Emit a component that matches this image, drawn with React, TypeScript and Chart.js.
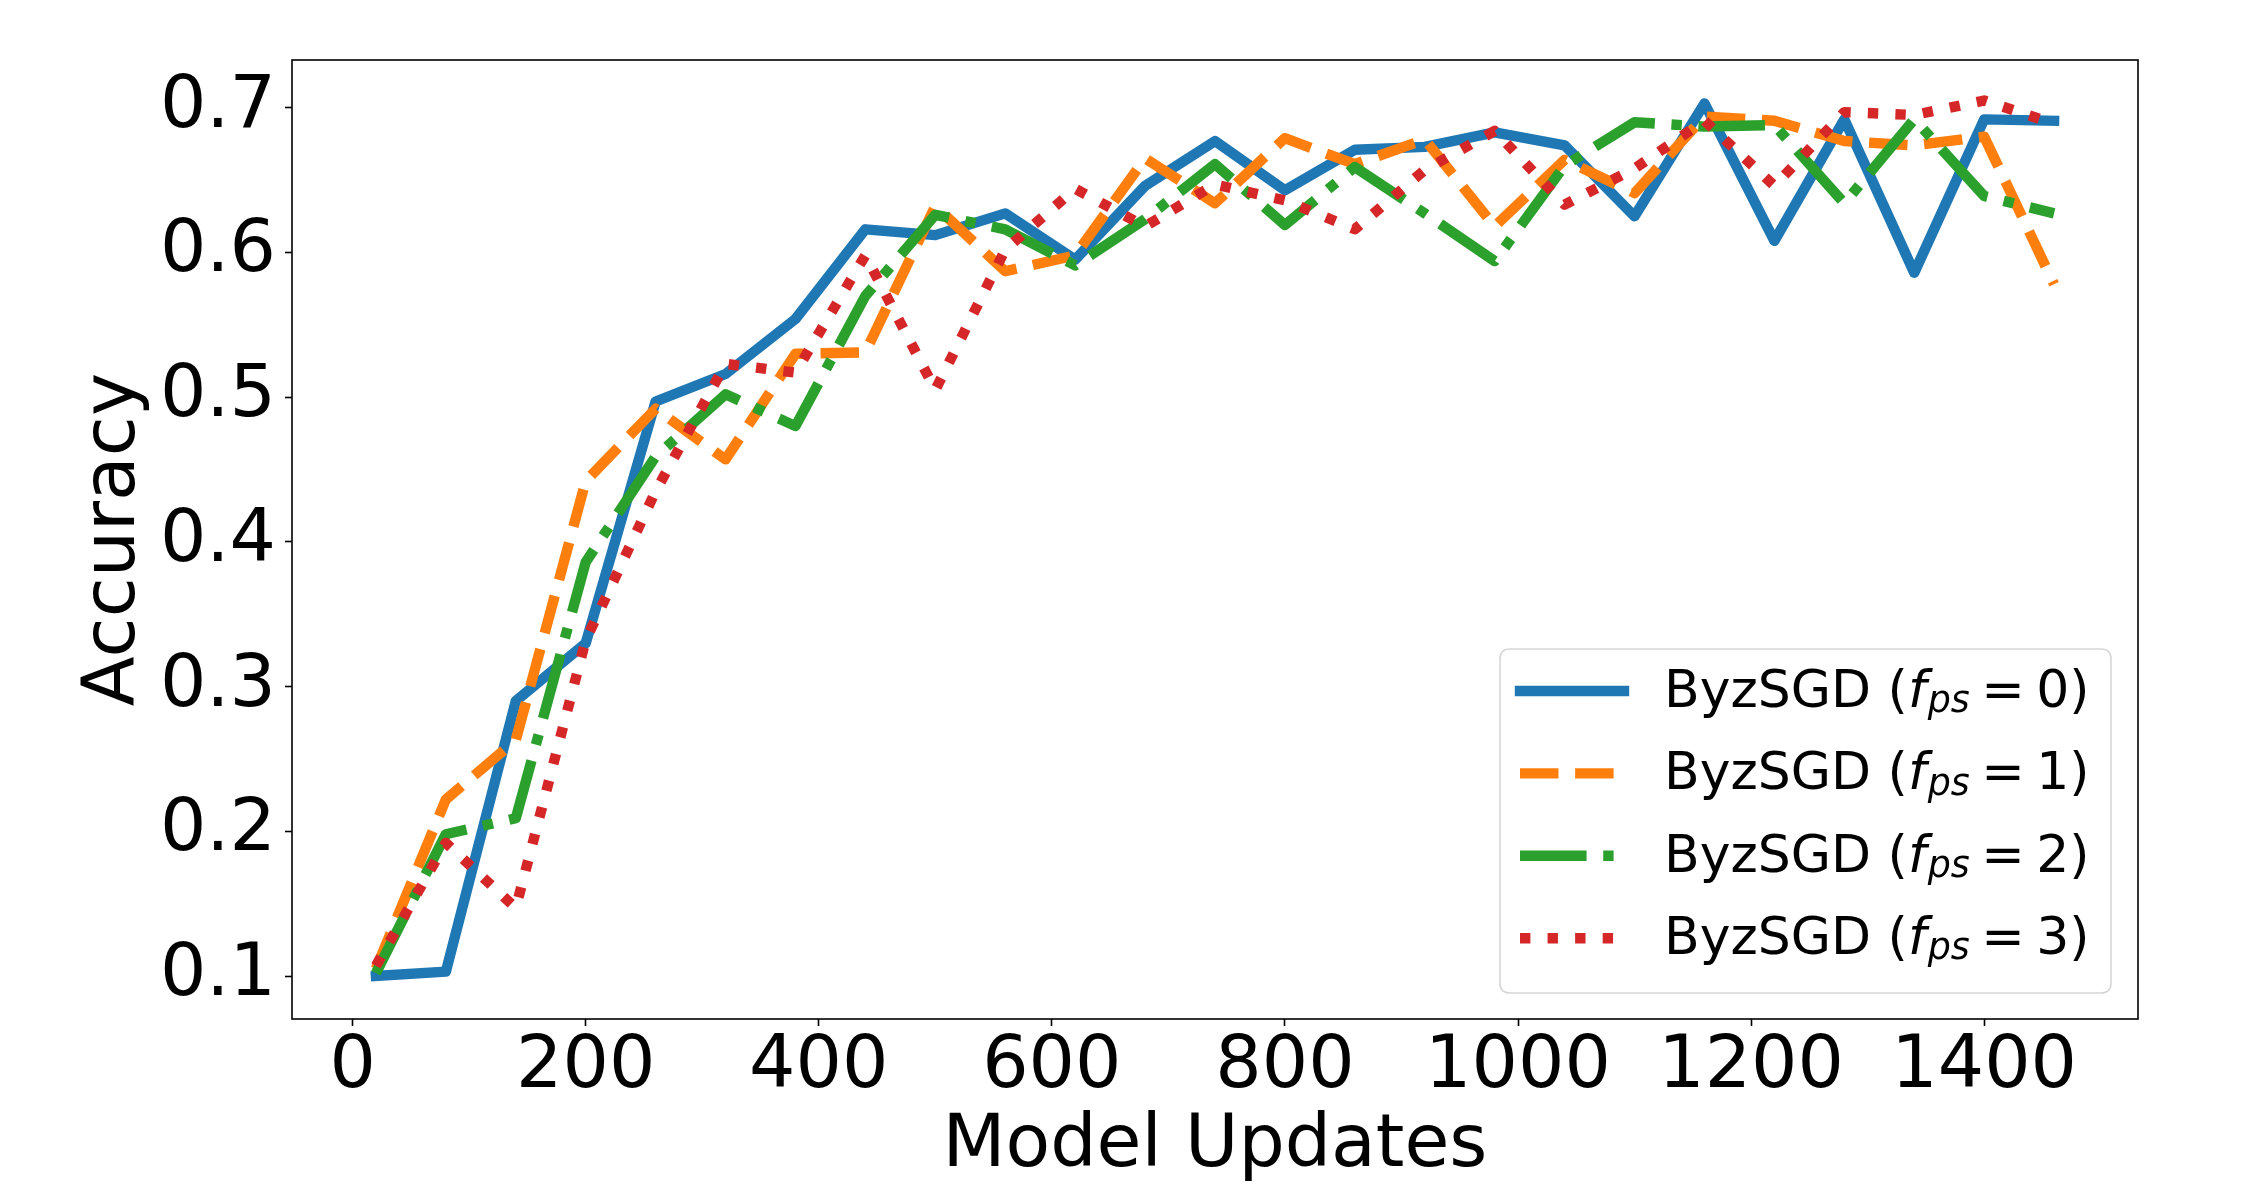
import React, { useEffect, useRef } from "react";
import { Chart, registerables } from "chart.js";

Chart.register(...registerables);

// Number of model updates at which accuracy was evaluated
const modelUpdates = [
  20, 80, 140, 200, 260, 320, 380, 440, 500, 560, 620, 680, 740, 800, 860,
  920, 980, 1040, 1100, 1160, 1220, 1280, 1340, 1400, 1460,
];

// Test accuracy per number of Byzantine parameter servers (f_ps)
const accFps0 = [
  0.1, 0.103, 0.29, 0.33, 0.497, 0.516, 0.554, 0.616, 0.612, 0.627, 0.595,
  0.646, 0.677, 0.643, 0.671, 0.673, 0.683, 0.674, 0.625, 0.703, 0.608, 0.692,
  0.586, 0.692, 0.691,
];
const accFps1 = [
  0.105, 0.222, 0.263, 0.442, 0.492, 0.457, 0.53, 0.531, 0.632, 0.587, 0.598,
  0.665, 0.634, 0.679, 0.661, 0.678, 0.618, 0.664, 0.641, 0.694, 0.691, 0.677,
  0.674, 0.68, 0.578,
];
const accFps2 = [
  0.102, 0.198, 0.209, 0.386, 0.459, 0.502, 0.48, 0.57, 0.626, 0.616, 0.591,
  0.623, 0.661, 0.619, 0.659, 0.627, 0.594, 0.66, 0.69, 0.687, 0.688, 0.634,
  0.692, 0.639, 0.627,
];
const accFps3 = [
  0.107, 0.192, 0.147, 0.332, 0.435, 0.523, 0.517, 0.598, 0.505, 0.602, 0.644,
  0.618, 0.647, 0.636, 0.616, 0.657, 0.684, 0.633, 0.658, 0.691, 0.646, 0.697,
  0.695, 0.705, 0.689,
];

const fpsValues = ["0", "1", "2", "3"];
const xTickValues = [0, 200, 400, 600, 800, 1000, 1200, 1400];
const yTickValues = [0.1, 0.2, 0.3, 0.4, 0.5, 0.6, 0.7];

const FONT = "'DejaVu Sans', 'Noto Sans', sans-serif";
const LW = 10.4;

const seriesStyles = [
  { color: "#1f77b4", dash: [] as number[], cap: "square" as CanvasLineCap },
  { color: "#ff7f0e", dash: [3.7 * LW, 1.6 * LW], cap: "butt" as CanvasLineCap },
  {
    color: "#2ca02c",
    dash: [6.4 * LW, 1.6 * LW, 1 * LW, 1.6 * LW],
    cap: "butt" as CanvasLineCap,
  },
  { color: "#d62728", dash: [1 * LW, 1.65 * LW], cap: "butt" as CanvasLineCap },
];

const seriesValues = [accFps0, accFps1, accFps2, accFps3];

// Frame on all four sides plus the mathtext-style legend
const framePlugin = {
  id: "frameAndLegend",
  beforeDraw(chart: any) {
    const { ctx, width, height } = chart;
    ctx.save();
    ctx.fillStyle = "#ffffff";
    ctx.fillRect(0, 0, width, height);
    ctx.restore();
  },
  afterDatasetsDraw(chart: any) {
    const { ctx, chartArea } = chart;
    const { left, right, top, bottom } = chartArea;
    ctx.save();
    ctx.strokeStyle = "#000000";
    ctx.lineWidth = 1.6;
    ctx.strokeRect(left, top, right - left, bottom - top);

    // legend box
    const bx = 1500;
    const by = 649;
    const bw = 611;
    const bh = 344;
    const r = 10;
    ctx.beginPath();
    ctx.moveTo(bx + r, by);
    ctx.lineTo(bx + bw - r, by);
    ctx.quadraticCurveTo(bx + bw, by, bx + bw, by + r);
    ctx.lineTo(bx + bw, by + bh - r);
    ctx.quadraticCurveTo(bx + bw, by + bh, bx + bw - r, by + bh);
    ctx.lineTo(bx + r, by + bh);
    ctx.quadraticCurveTo(bx, by + bh, bx, by + bh - r);
    ctx.lineTo(bx, by + r);
    ctx.quadraticCurveTo(bx, by, bx + r, by);
    ctx.closePath();
    ctx.fillStyle = "rgba(255,255,255,0.8)";
    ctx.fill();
    ctx.strokeStyle = "rgba(204,204,204,0.8)";
    ctx.lineWidth = 1.6;
    ctx.stroke();

    const fs = 52;
    const rowStart = 691;
    const rowGap = 82.4;
    seriesStyles.forEach((s, i) => {
      const cy = rowStart + i * rowGap;
      ctx.save();
      ctx.beginPath();
      ctx.moveTo(1520, cy);
      ctx.lineTo(1624, cy);
      ctx.strokeStyle = s.color;
      ctx.lineWidth = LW;
      ctx.lineCap = s.cap;
      ctx.setLineDash(s.dash);
      ctx.lineDashOffset = 0;
      ctx.stroke();
      ctx.restore();

      const base = cy + 16;
      let x = 1664;
      ctx.fillStyle = "#000000";
      ctx.textBaseline = "alphabetic";
      ctx.textAlign = "left";
      ctx.font = `${fs}px ${FONT}`;
      const head = "ByzSGD (";
      ctx.fillText(head, x, base);
      x += ctx.measureText(head).width;
      ctx.font = `italic ${fs}px ${FONT}`;
      ctx.fillText("f", x, base);
      x += ctx.measureText("f").width + 0.03 * fs;
      ctx.font = `italic ${fs * 0.7}px ${FONT}`;
      ctx.fillText("ps", x, base + 0.1 * fs);
      x += ctx.measureText("ps").width + 0.22 * fs;
      ctx.font = `${fs}px ${FONT}`;
      ctx.fillText("=", x, base);
      x += ctx.measureText("=").width + 0.22 * fs;
      const tail = `${fpsValues[i]})`;
      ctx.fillText(tail, x, base);
    });
    ctx.restore();
  },
};

export default function App() {
  const canvasRef = useRef<HTMLCanvasElement>(null);

  useEffect(() => {
    document.body.style.margin = "0";
    const canvas = canvasRef.current;
    if (!canvas) return;

    const datasets = seriesValues.map((vals, i) => ({
      label: `ByzSGD (f_ps = ${fpsValues[i]})`,
      data: modelUpdates.map((x, k) => ({ x, y: vals[k] })),
      borderColor: seriesStyles[i].color,
      borderWidth: LW,
      borderDash: seriesStyles[i].dash,
      borderCapStyle: seriesStyles[i].cap,
      borderJoinStyle: "round" as CanvasLineJoin,
      pointRadius: 0,
      pointHoverRadius: 0,
      tension: 0,
      fill: false,
      order: seriesValues.length - i,
    }));

    const tickFont = { family: FONT, size: 73, lineHeight: 1 };
    const titleFont = { family: FONT, size: 73, lineHeight: 1.2 };
    const grid = {
      drawOnChartArea: false,
      drawTicks: true,
      tickLength: 7,
      tickWidth: 1.6,
      tickColor: "#000000",
    };

    const chart = new Chart(canvas, {
      type: "line",
      data: { datasets },
      options: {
        animation: false,
        responsive: false,
        devicePixelRatio: 1,
        events: [],
        layout: { padding: { left: 0, top: 60, right: 112, bottom: 0 } },
        plugins: {
          legend: { display: false },
          tooltip: { enabled: false },
        },
        scales: {
          x: {
            type: "linear",
            min: -52,
            max: 1532,
            afterBuildTicks: (scale: any) => {
              scale.ticks = xTickValues.map((v) => ({ value: v }));
            },
            afterFit: (scale: any) => {
              scale.height = 181;
            },
            ticks: {
              font: tickFont,
              color: "#000000",
              padding: 6,
              maxRotation: 0,
              autoSkip: false,
              callback: (v: any) => String(v),
            },
            grid,
            border: { display: false },
            title: {
              display: true,
              text: "Model Updates",
              color: "#000000",
              font: titleFont,
              padding: { top: 0, bottom: 9.5 },
            },
          },
          y: {
            type: "linear",
            min: 0.0703,
            max: 0.733,
            afterBuildTicks: (scale: any) => {
              scale.ticks = yTickValues.map((v) => ({ value: v }));
            },
            afterFit: (scale: any) => {
              scale.width = 292;
            },
            ticks: {
              font: { family: FONT, size: 73, lineHeight: 1.2 },
              color: "#000000",
              padding: 9,
              autoSkip: false,
              callback: (v: any) => Number(v).toFixed(1),
            },
            grid,
            border: { display: false },
            title: {
              display: true,
              text: "Accuracy",
              color: "#000000",
              font: titleFont,
              padding: { top: 71, bottom: 0 },
            },
          },
        },
      },
      plugins: [framePlugin],
    });

    return () => chart.destroy();
  }, []);

  return (
    <canvas
      ref={canvasRef}
      width={2250}
      height={1200}
      style={{ display: "block", width: 2250, height: 1200 }}
    />
  );
}
